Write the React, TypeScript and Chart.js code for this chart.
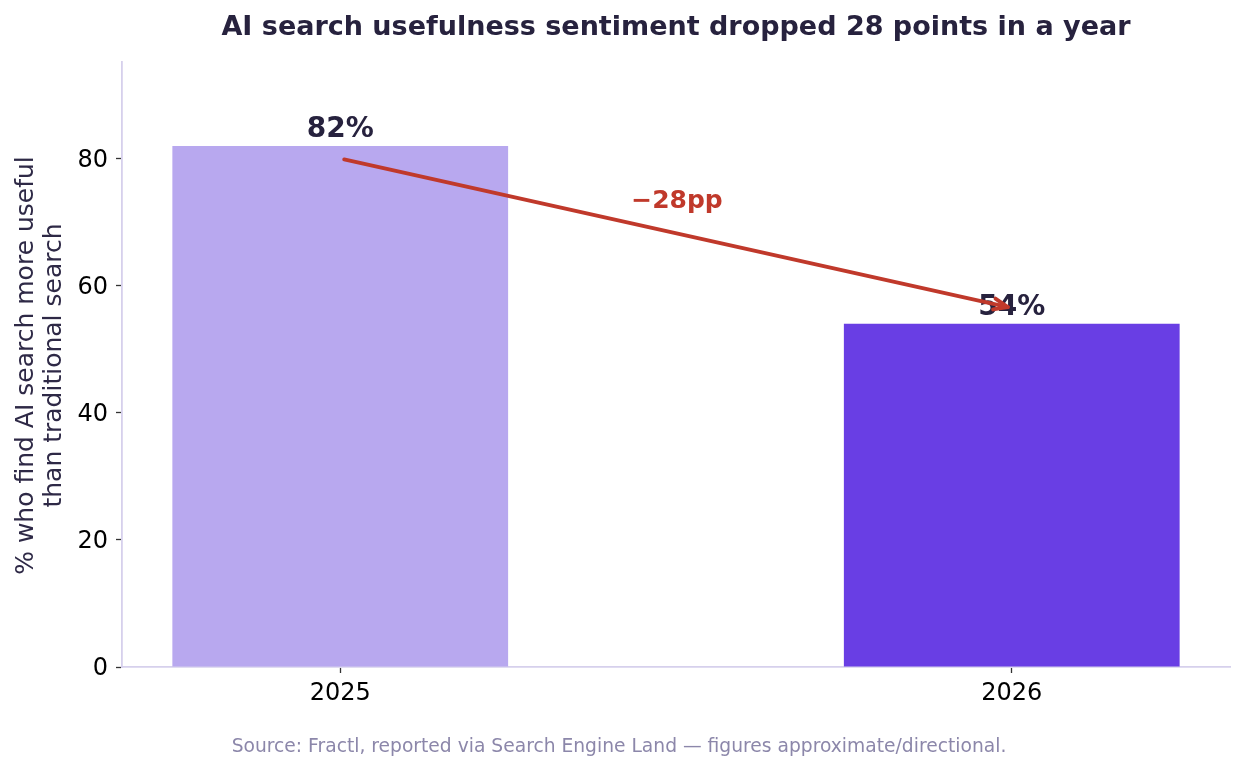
import { useEffect, useRef } from "react";
import { Chart, registerables } from "chart.js";

Chart.register(...registerables);

// Survey share, by year
const YEARS = ["2025", "2026"];
const SHARE = [82, 54];
const BAR_COLORS = ["#b8a8ef", "#693ee4"];

// Axis ticks and limits
const Y_TICKS = [0, 20, 40, 60, 80];
const Y_MAX = 95.2;
const X_MIN = -0.325;
const X_MAX = 1.325;

// Change annotation (data coordinates: x = year index, y = percent)
const ARROW_FROM = [0, 80];
const ARROW_TO = [1, 56.5];
const DELTA_LABEL = "\u221228pp";
const DELTA_POS = [0.5, 73.2];

const TITLE = "AI search usefulness sentiment dropped 28 points in a year";
const Y_TITLE = ["% who find AI search more useful", "than traditional search"];
const SOURCE =
  "Source: Fractl, reported via Search Engine Land \u2014 figures approximate/directional.";

const FONT = "'DejaVu Sans', sans-serif";
const INK = "#27223e";
const RED = "#c0392b";

const annotations = {
  id: "annotations",
  afterDatasetsDraw(chart: any) {
    const { ctx, scales } = chart;
    const x = scales.x;
    const y = scales.y;
    ctx.save();

    // value labels above bars
    ctx.font = `bold 28px ${FONT}`;
    ctx.fillStyle = INK;
    ctx.textAlign = "center";
    ctx.textBaseline = "alphabetic";
    SHARE.forEach((v, i) => {
      ctx.fillText(`${v}%`, x.getPixelForValue(i), y.getPixelForValue(v) - 9);
    });

    // arrow between the two bars
    const ax0 = x.getPixelForValue(ARROW_FROM[0]);
    const ay0 = y.getPixelForValue(ARROW_FROM[1]);
    const ax1 = x.getPixelForValue(ARROW_TO[0]);
    const ay1 = y.getPixelForValue(ARROW_TO[1]);
    const ang = Math.atan2(ay1 - ay0, ax1 - ax0);
    const shrink = 4;
    const sx = ax0 + Math.cos(ang) * shrink;
    const sy = ay0 + Math.sin(ang) * shrink;
    const tx = ax1 - Math.cos(ang) * shrink;
    const ty = ay1 - Math.sin(ang) * shrink;
    ctx.strokeStyle = RED;
    ctx.lineWidth = 3.8;
    ctx.lineCap = "round";
    ctx.lineJoin = "round";
    ctx.beginPath();
    ctx.moveTo(sx, sy);
    ctx.lineTo(tx, ty);
    ctx.stroke();
    const head = 15;
    const spread = 0.38;
    ctx.beginPath();
    ctx.moveTo(tx - Math.cos(ang - spread) * head, ty - Math.sin(ang - spread) * head);
    ctx.lineTo(tx, ty);
    ctx.lineTo(tx - Math.cos(ang + spread) * head, ty - Math.sin(ang + spread) * head);
    ctx.stroke();

    // change label
    ctx.font = `bold 25px ${FONT}`;
    ctx.fillStyle = RED;
    ctx.textBaseline = "middle";
    ctx.fillText(DELTA_LABEL, x.getPixelForValue(DELTA_POS[0]) + 1, y.getPixelForValue(DELTA_POS[1]));

    ctx.restore();
  },
  afterDraw(chart: any) {
    const { ctx, chartArea } = chart;
    ctx.save();

    // title
    ctx.font = `bold 27px ${FONT}`;
    ctx.fillStyle = INK;
    ctx.textAlign = "center";
    ctx.textBaseline = "alphabetic";
    ctx.fillText(TITLE, (chartArea.left + chartArea.right) / 2, 35);

    // y-axis title
    const cy = (chartArea.top + chartArea.bottom) / 2;
    ctx.font = `25px ${FONT}`;
    ctx.fillStyle = "#2e2946";
    ctx.textBaseline = "middle";
    [26, 54].forEach((lx, i) => {
      ctx.save();
      ctx.translate(lx, cy + 1);
      ctx.rotate(-Math.PI / 2);
      ctx.fillText(Y_TITLE[i], 0, 0);
      ctx.restore();
    });

    // source note
    ctx.font = `18.7px ${FONT}`;
    ctx.fillStyle = "#8c87aa";
    ctx.textBaseline = "alphabetic";
    ctx.fillText(SOURCE, 619, 752);

    ctx.restore();
  },
};

export default function App() {
  const canvasRef = useRef<HTMLCanvasElement | null>(null);

  useEffect(() => {
    const canvas = canvasRef.current;
    if (!canvas) return;
    const tickFont = { family: FONT, size: 24 };
    const chart = new Chart(canvas, {
      type: "bar",
      data: {
        datasets: [
          {
            data: SHARE.map((v, i) => ({ x: i, y: v })),
            backgroundColor: BAR_COLORS,
            borderWidth: 0,
            barPercentage: 0.5,
            categoryPercentage: 1,
          },
        ],
      },
      options: {
        responsive: false,
        animation: false,
        layout: { padding: { left: 0, top: 62, right: 14, bottom: 0 } },
        plugins: {
          legend: { display: false },
          title: { display: false },
          tooltip: { enabled: false },
        },
        scales: {
          x: {
            type: "linear",
            min: X_MIN,
            max: X_MAX,
            offset: false,
            afterBuildTicks: (s: any) => {
              s.ticks = YEARS.map((_, i) => ({ value: i }));
            },
            afterFit: (s: any) => {
              s.height = 103;
            },
            ticks: {
              font: tickFont,
              color: "#000",
              padding: 6,
              maxRotation: 0,
              callback: (v: any) => YEARS[Math.round(Number(v))] ?? "",
            },
            grid: {
              display: true,
              offset: false,
              drawOnChartArea: false,
              drawTicks: true,
              tickLength: 6,
              tickWidth: 1.3,
              color: "#333",
            },
            border: { display: true, color: "#d6d0ec", width: 1.8 },
          },
          y: {
            type: "linear",
            min: 0,
            max: Y_MAX,
            afterBuildTicks: (s: any) => {
              s.ticks = Y_TICKS.map((v) => ({ value: v }));
            },
            afterFit: (s: any) => {
              s.width = 122;
            },
            ticks: {
              font: tickFont,
              color: "#000",
              padding: 8,
              labelOffset: 2,
            },
            grid: {
              display: true,
              drawOnChartArea: false,
              drawTicks: true,
              tickLength: 6,
              tickWidth: 1.3,
              color: "#333",
            },
            border: { display: true, color: "#d6d0ec", width: 1.8 },
          },
        },
      },
      plugins: [annotations],
    });
    return () => chart.destroy();
  }, []);

  return (
    <div style={{ position: "absolute", left: 0, top: 0, width: 1244, height: 770, background: "#fff" }}>
      <canvas ref={canvasRef} width={1244} height={770} style={{ display: "block" }} />
    </div>
  );
}
